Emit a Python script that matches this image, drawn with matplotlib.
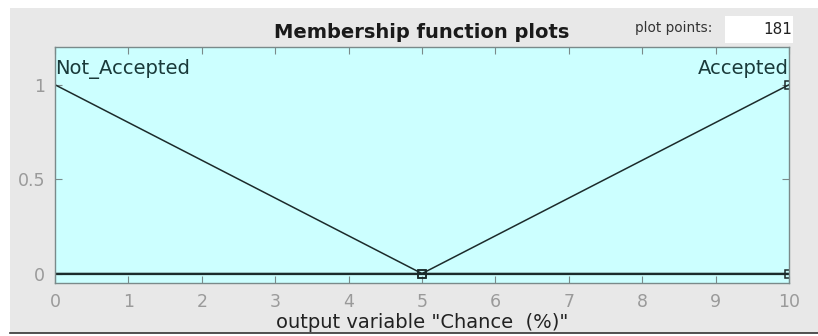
import numpy as np
import matplotlib
matplotlib.use("Agg")
import matplotlib.pyplot as plt
from matplotlib.patches import Rectangle

# membership functions of the output variable
mf_names = ["Not_Accepted", "Accepted"]
mf_x = [[0, 5, 10], [0, 5, 10]]
mf_y = [[1, 0, 0], [0, 0, 1]]
mf_marks_x = [[5, 10], [5, 10]]
mf_marks_y = [[0, 0], [0, 1]]

x_ticks = [0, 1, 2, 3, 4, 5, 6, 7, 8, 9, 10]
y_ticks = [0, 0.5, 1]
y_tick_labels = ["0", "0.5", "1"]
plot_points = 181

bg = "#e8e8e8"
line_col = "#1c2b2b"

fig = plt.figure(figsize=(8.18, 3.36), dpi=100)
fig.patch.set_facecolor("white")

# grey panel behind everything
fig.patches.append(Rectangle((10 / 818, 3 / 336), 808 / 818, 325 / 336,
                             transform=fig.transFigure, facecolor=bg,
                             edgecolor="none", zorder=-10))
fig.lines.append(plt.Line2D([10 / 818, 1], [3.5 / 336, 3.5 / 336],
                            transform=fig.transFigure, color="#333333", lw=1.2))

ax = fig.add_axes([55 / 818, 53 / 336, 734 / 818, 236 / 336])
ax.set_facecolor("#ccffff")

for xs, ys, mx, my in zip(mf_x, mf_y, mf_marks_x, mf_marks_y):
    ax.plot(xs, ys, color=line_col, lw=1.1)
    ax.plot(mx, my, ls="none", marker="s", ms=6, mfc="none",
            mec=line_col, mew=1.1)
# thicker baseline where both functions sit at zero
ax.axhline(0, color=line_col, lw=1.6)

ax.text(0, 1.085, mf_names[0], ha="left", va="center", fontsize=14,
        color="#1a3a3a")
ax.text(10, 1.085, mf_names[1], ha="right", va="center", fontsize=14,
        color="#1a3a3a")

ax.set_xlim(0, 10)
ax.set_ylim(-0.05, 1.2)
ax.set_xticks(x_ticks)
ax.set_yticks(y_ticks)
ax.set_yticklabels(y_tick_labels)
ax.tick_params(direction="in", top=True, right=True, length=5,
               color="#7a8a8a", labelcolor="#9a9a9a", labelsize=12.5, pad=7)
for s in ax.spines.values():
    s.set_color("#7a8a8a")
    s.set_linewidth(1.0)

ax.set_xlabel('output variable "Chance  (%)"', fontsize=14, color="#222222",
              labelpad=2)

fig.text(422 / 818, 1 - 33 / 336, "Membership function plots", ha="center",
         va="center", fontsize=14, fontweight="bold", color="#1a1a1a")
fig.text(712 / 818, 1 - 28 / 336, "plot points:", ha="right", va="center",
         fontsize=9.8, color="#333333")
fig.patches.append(Rectangle((725 / 818, 1 - 43 / 336), 68 / 818, 27 / 336,
                             transform=fig.transFigure, facecolor="white",
                             edgecolor="none", zorder=5))
fig.text(792 / 818, 1 - 30 / 336, str(plot_points), ha="right", va="center",
         fontsize=11, color="#222222", zorder=6)

fig.savefig("out.png", dpi=100, facecolor=fig.get_facecolor())
